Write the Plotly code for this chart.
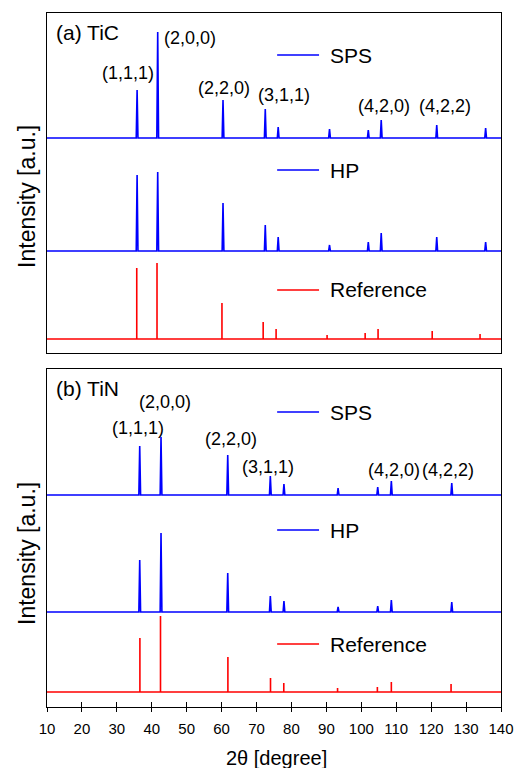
import plotly.graph_objects as go

# ---------------- data ----------------
# (a) TiC  -- measured peak positions (2theta, degree) and relative intensities
tic_peak_2theta = [35.8, 41.7, 60.4, 72.5, 76.2, 90.9, 102.0, 105.7, 121.6, 135.6]
tic_sps_intensity = [48, 106, 38, 29, 11, 9, 8, 18, 13, 10]
tic_hp_intensity = [76, 79, 48, 26, 14, 6, 9, 18, 14, 9]
tic_ref_2theta = [35.7, 41.5, 60.1, 71.9, 75.6, 90.2, 101.1, 104.8, 120.3, 134.0]
tic_ref_intensity = [71, 76, 36, 17, 10, 4, 6, 10, 8, 5]

# (b) TiN
tin_peak_2theta = [36.55, 42.65, 61.75, 73.95, 77.85, 93.35, 104.7, 108.6, 125.9]
tin_sps_intensity = [49, 58, 40, 19, 11, 7, 8, 14, 12]
tin_hp_intensity = [52, 79, 39, 16, 11, 5, 6, 12, 10]
tin_ref_2theta = [36.6, 42.5, 61.8, 74.0, 77.8, 93.2, 104.6, 108.6, 125.7]
tin_ref_intensity = [54, 76, 35, 14, 9, 4, 5, 10, 8]

series_names = ["SPS", "HP", "Reference"]
hkl_labels = ["(1,1,1)", "(2,0,0)", "(2,2,0)", "(3,1,1)", "(4,2,0)", "(4,2,2)"]
x_tick_values = [10, 20, 30, 40, 50, 60, 70, 80, 90, 100, 110, 120, 130, 140]

# ---------------- layout constants ----------------
X_MIN, X_MAX = 10, 140
FONT = "Liberation Sans, Arial, sans-serif"
BLUE = "#0000FF"
RED = "#FF0000"

# vertical stacking offsets (y-axis units) for each panel
OFF_A = {"SPS": 215, "HP": 102, "Reference": 14}
OFF_B = {"SPS": 212, "HP": 95, "Reference": 15}
YR_A = [0, 340]
YR_B = [0, 338]


def pattern(pos, inten, offset, hw=0.25):
    xs, ys = [X_MIN], [offset]
    for p, h in sorted(zip(pos, inten)):
        xs += [p - hw, p, p + hw]
        ys += [offset, offset + h, offset]
    xs.append(X_MAX)
    ys.append(offset)
    return xs, ys


def sticks(pos, inten, offset):
    xs, ys = [X_MIN], [offset]
    for p, h in sorted(zip(pos, inten)):
        xs += [p, p, p]
        ys += [offset, offset + h, offset]
    xs.append(X_MAX)
    ys.append(offset)
    return xs, ys


fig = go.Figure()

panels = [
    ("x", "y", OFF_A, tic_peak_2theta, tic_sps_intensity, tic_hp_intensity,
     tic_ref_2theta, tic_ref_intensity),
    ("x2", "y2", OFF_B, tin_peak_2theta, tin_sps_intensity, tin_hp_intensity,
     tin_ref_2theta, tin_ref_intensity),
]

for xa, ya, off, pk, sps, hp, rpos, rint in panels:
    x, y = pattern(pk, sps, off["SPS"])
    fig.add_trace(go.Scatter(x=x, y=y, mode="lines", name="SPS", xaxis=xa, yaxis=ya,
                             line=dict(color=BLUE, width=1.6), showlegend=False))
    x, y = pattern(pk, hp, off["HP"])
    fig.add_trace(go.Scatter(x=x, y=y, mode="lines", name="HP", xaxis=xa, yaxis=ya,
                             line=dict(color=BLUE, width=1.6), showlegend=False))
    x, y = sticks(rpos, rint, off["Reference"])
    fig.add_trace(go.Scatter(x=x, y=y, mode="lines", name="Reference", xaxis=xa, yaxis=ya,
                             line=dict(color=RED, width=1.6), showlegend=False))

# dummy trace for the overlay axis that carries the inward tick marks
fig.add_trace(go.Scatter(x=[None], y=[None], xaxis="x3", yaxis="y2", showlegend=False,
                         hoverinfo="skip"))

annotations = []
shapes = []

# legend-like samples inside each panel
legend_y_a = {"SPS": 298, "HP": 183, "Reference": 63}
legend_y_b = {"SPS": 295, "HP": 177, "Reference": 63}
for xa, ya, ly in [("x", "y", legend_y_a), ("x2", "y2", legend_y_b)]:
    for nm in series_names:
        col = RED if nm == "Reference" else BLUE
        shapes.append(dict(type="line", xref=xa, yref=ya, x0=75.9, x1=87.9,
                           y0=ly[nm], y1=ly[nm], line=dict(color=col, width=1.6)))
        annotations.append(dict(xref=xa, yref=ya, x=90.6, y=ly[nm], text=nm,
                                showarrow=False, xanchor="left", yanchor="middle",
                                font=dict(size=21, family=FONT, color="black")))

# panel titles
annotations.append(dict(xref="x", yref="y", x=12.0, y=321, text="(a) TiC", showarrow=False,
                        xanchor="left", yanchor="middle", font=dict(size=21, family=FONT)))
annotations.append(dict(xref="x2", yref="y2", x=12.0, y=319, text="(b) TiN", showarrow=False,
                        xanchor="left", yanchor="middle", font=dict(size=21, family=FONT)))

# hkl labels
lab_a = [(33.2, 280, "center"), (42.9, 315, "left"), (60.7, 265, "center"),
         (77.9, 258, "center"), (106.5, 247, "center"), (124.0, 247, "center")]
lab_b = [(36.1, 279, "center"), (43.8, 305, "center"), (62.7, 268, "center"),
         (73.3, 240, "center"), (109.4, 237, "center"), (124.8, 237, "center")]
for xa, ya, labs in [("x", "y", lab_a), ("x2", "y2", lab_b)]:
    for txt, (lx, lyv, anc) in zip(hkl_labels, labs):
        annotations.append(dict(xref=xa, yref=ya, x=lx, y=lyv, text=txt, showarrow=False,
                                xanchor=anc, yanchor="middle",
                                font=dict(size=18, family=FONT, color="black")))

# y-axis titles
for ypos in [0.735, 0.2205]:
    annotations.append(dict(xref="paper", yref="paper", x=-0.044, y=ypos,
                            text="Intensity [a.u.]", textangle=-90, showarrow=False,
                            xanchor="center", yanchor="middle",
                            font=dict(size=23, family=FONT, color="black")))

# x-axis title
annotations.append(dict(xref="paper", yref="paper", x=0.5066, y=-0.0735,
                        text="2θ [degree]", showarrow=False,
                        xanchor="center", yanchor="middle",
                        font=dict(size=20, family=FONT, color="black")))

axis_common = dict(showgrid=False, zeroline=False, showline=True, mirror=True,
                   linecolor="black", linewidth=1.3, automargin=False)

fig.update_layout(
    width=516, height=768,
    margin=dict(l=47, r=15, t=13, b=61, autoexpand=False),
    plot_bgcolor="white", paper_bgcolor="white",
    showlegend=False,
    font=dict(family=FONT, color="black"),
    xaxis=dict(domain=[0, 1], anchor="y", range=[X_MIN, X_MAX], showticklabels=False,
               ticks="", **axis_common),
    yaxis=dict(domain=[0.5101, 1], anchor="x", range=YR_A, showticklabels=False,
               ticks="", **axis_common),
    xaxis2=dict(domain=[0, 1], anchor="y2", range=[X_MIN, X_MAX], tickmode="array",
                tickvals=x_tick_values, ticktext=[str(v) for v in x_tick_values],
                ticks="outside", ticklen=4, tickwidth=1.3, tickcolor="black",
                ticklabelstandoff=4,
                tickfont=dict(size=15, family=FONT, color="black"),
                **axis_common),
    xaxis3=dict(overlaying="x2", anchor="y2", range=[X_MIN, X_MAX], tickmode="array",
                tickvals=x_tick_values, ticks="inside", ticklen=5, tickwidth=1.3,
                tickcolor="black", showticklabels=False, showgrid=False, zeroline=False,
                showline=False, automargin=False),
    yaxis2=dict(domain=[0, 0.4870], anchor="x2", range=YR_B, showticklabels=False,
                ticks="", **axis_common),
    annotations=annotations,
    shapes=shapes,
)

fig.write_html("out.html", config={"displayModeBar": False},
               post_script="document.body.style.margin='0';document.body.style.overflow='hidden';")
